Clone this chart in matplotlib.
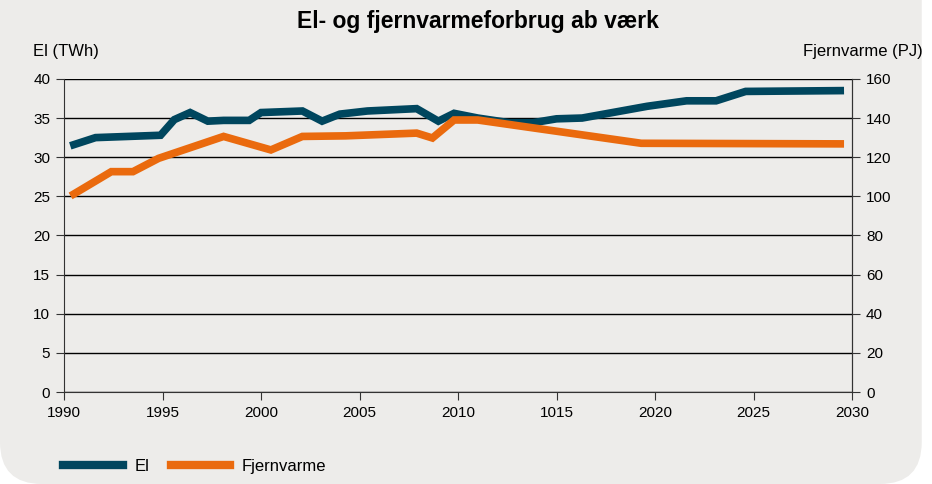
import matplotlib.pyplot as plt
from matplotlib.patches import FancyBboxPatch
from matplotlib.lines import Line2D

plt.rcParams['font.family'] = ['Liberation Sans', 'DejaVu Sans']

# El (TWh)
el_years = [1990.5, 1991.6, 1994.9, 1995.6, 1996.4, 1997.3, 1998.1, 1999.4, 2000.0,
            2002.1, 2003.1, 2004.0, 2005.4, 2007.9, 2009.0, 2009.8, 2011.0, 2012.6,
            2013.8, 2015.0, 2016.3, 2019.6, 2021.6, 2023.1, 2024.6, 2029.4]
el_twh = [31.6, 32.5, 32.8, 34.8, 35.7, 34.6, 34.7, 34.7, 35.7,
          35.9, 34.6, 35.5, 35.9, 36.2, 34.6, 35.6, 35.0, 34.4,
          34.4, 34.9, 35.0, 36.5, 37.2, 37.2, 38.4, 38.5]

# Fjernvarme (PJ)
fv_years = [1990.5, 1992.4, 1993.5, 1994.8, 1998.1, 2000.5, 2002.1, 2004.3,
            2007.9, 2008.7, 2009.8, 2011.0, 2019.3, 2029.4]
fv_pj = [101.2, 112.6, 112.6, 119.4, 130.6, 123.7, 130.6, 130.9,
         132.3, 129.8, 139.0, 139.0, 127.1, 126.8]

xticks = [1990, 1995, 2000, 2005, 2010, 2015, 2020, 2025, 2030]
xlabels = ['1990', '1995', '2000', '2005', '2010', '1015', '2020', '2025', '2030']

blue = '#00465E'
orange = '#EA6A0E'
bg = '#EDECEA'

fig = plt.figure(figsize=(9.32, 4.84), dpi=100, facecolor='white')
panel = FancyBboxPatch((0.0, 0.0), 0.989, 1.3, boxstyle='round,pad=0,rounding_size=0.045',
                       transform=fig.transFigure, facecolor=bg, edgecolor='none',
                       mutation_aspect=932 / 484, zorder=-10)
fig.patches.append(panel)

ax = fig.add_axes([0.0687, 0.19, 0.8455, 0.647])
ax.set_facecolor('none')
ax.set_xlim(1990, 2030)
ax.set_ylim(0, 40)
ax.set_yticks(range(0, 41, 5))
ax.set_xticks(xticks)
ax.set_xticklabels(xlabels)
ax.grid(axis='y', color='black', lw=1)
ax.set_axisbelow(True)
ax.spines['top'].set_visible(False)
for s in ['left', 'bottom', 'right']:
    ax.spines[s].set_color('#333333')
ax.tick_params(labelsize=11, length=6, color='#333333', pad=4)

ax2 = ax.twinx()
ax2.set_ylim(0, 160)
ax2.set_yticks(range(0, 161, 20))
ax2.tick_params(labelsize=11, length=6, color='#333333', pad=4)
for s in ['top', 'left', 'bottom']:
    ax2.spines[s].set_visible(False)
ax2.spines['right'].set_color('#333333')

ax.plot(el_years, el_twh, color=blue, lw=5.5, solid_joinstyle='miter', zorder=3)
ax2.plot(fv_years, fv_pj, color=orange, lw=5.5, solid_joinstyle='miter', zorder=2)

fig.text(0.513, 0.955, 'El- og fjernvarmeforbrug ab værk', ha='center', va='center',
         fontsize=16.5, fontweight='bold')
fig.text(0.035, 0.893, 'El (TWh)', ha='left', va='center', fontsize=12)
fig.text(0.99, 0.893, 'Fjernvarme (PJ)', ha='right', va='center', fontsize=12)

handles = [Line2D([], [], color=blue, lw=6), Line2D([], [], color=orange, lw=6)]
fig.legend(handles, ['El', 'Fjernvarme'], loc='center left', bbox_to_anchor=(0.068, 0.037),
           ncol=2, frameon=False, fontsize=12, handlelength=3.55, columnspacing=1.3,
           handletextpad=0.7, borderaxespad=0, borderpad=0)

fig.savefig('out.png', dpi=100, facecolor='white')
